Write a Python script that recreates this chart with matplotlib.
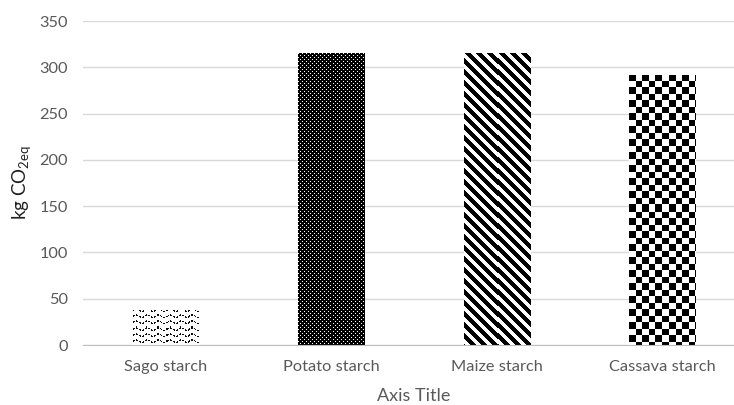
import numpy as np
import matplotlib
matplotlib.use("Agg")
import matplotlib.pyplot as plt

# --- data -------------------------------------------------------------------
starches = ["Sago starch", "Potato starch", "Maize starch", "Cassava starch"]
co2_eq = [38, 315, 316, 292]

plt.rcParams["font.family"] = ["Lato", "DejaVu Sans"]
plt.rcParams["mathtext.fontset"] = "custom"
plt.rcParams["mathtext.rm"] = "Lato"
TXT = "#595959"
DPI = 100

fig = plt.figure(figsize=(7.34, 4.05), dpi=DPI)
ax = fig.add_axes([0.1135, 0.148, 0.901, 0.800])

bars = ax.bar(range(len(starches)), co2_eq, width=0.40,
              facecolor="none", edgecolor="none", zorder=3)

ax.set_ylim(0, 350)
ax.set_xlim(-0.5, len(starches) - 0.5)
ax.set_yticks(np.arange(0, 351, 50))
ax.set_xticks(range(len(starches)))
ax.set_xticklabels(starches)
ax.tick_params(length=0, labelsize=11.8, colors=TXT)
ax.tick_params(axis="x", pad=11)
ax.tick_params(axis="y", pad=11)
ax.grid(axis="y", color="#d9d9d9", lw=1.0, zorder=0)
for s in ["top", "right", "left"]:
    ax.spines[s].set_visible(False)
ax.spines["bottom"].set_color("#bfbfbf")
ax.spines["bottom"].set_zorder(4)
ax.set_xlabel("Axis Title", fontsize=13, color=TXT, labelpad=9.5)
ax.set_ylabel(r"kg CO$_{\mathrm{2eq}}$", fontsize=13.5, color="#222222",
              labelpad=4)


# --- pixel textures for the bar fills ----------------------------------------
def wave(h, w):
    yy, xx = np.mgrid[0:h, 0:w]
    off = 1.3 * np.sin(2 * np.pi * xx / 11.0)
    d = np.mod(yy + off, 6.0)
    ink = (d < 1.3) & (np.mod(xx, 3) != 2)
    return np.where(ink, 0.05, 1.0)


def dots(h, w):
    yy, xx = np.mgrid[0:h, 0:w]
    shift = (yy // 2) % 2 * 2
    hole = (np.mod(yy, 2) == 0) & (np.mod(xx + shift, 4) == 0)
    return np.where(hole, 1.0, 0.0)


def stripes(h, w):
    yy, xx = np.mgrid[0:h, 0:w]
    return np.where(np.mod(xx - yy, 11) < 5.5, 0.0, 1.0)


def checker(h, w):
    yy, xx = np.mgrid[0:h, 0:w]
    s = 6.5
    return np.where(((xx // s) + (yy // s)) % 2 == 0, 0.0, 1.0)


fills = [wave, dots, stripes, checker]

fig.canvas.draw()
for bar, fill in zip(bars, fills):
    x0, y0 = bar.get_x(), bar.get_y()
    x1, y1 = x0 + bar.get_width(), y0 + bar.get_height()
    (px0, py0), (px1, py1) = ax.transData.transform([(x0, y0), (x1, y1)])
    w_px = max(int(round(px1 - px0)), 1)
    h_px = max(int(round(py1 - py0)), 1)
    tex = fill(h_px, w_px)
    im = ax.imshow(tex, cmap="gray", vmin=0, vmax=1, origin="upper",
                   extent=(x0, x1, y0, y1), interpolation="nearest",
                   aspect="auto", zorder=3)
    im.set_clip_path(bar)

ax.set_xlim(-0.5, len(starches) - 0.5)
ax.set_ylim(0, 350)

fig.savefig("out.png", dpi=DPI)
